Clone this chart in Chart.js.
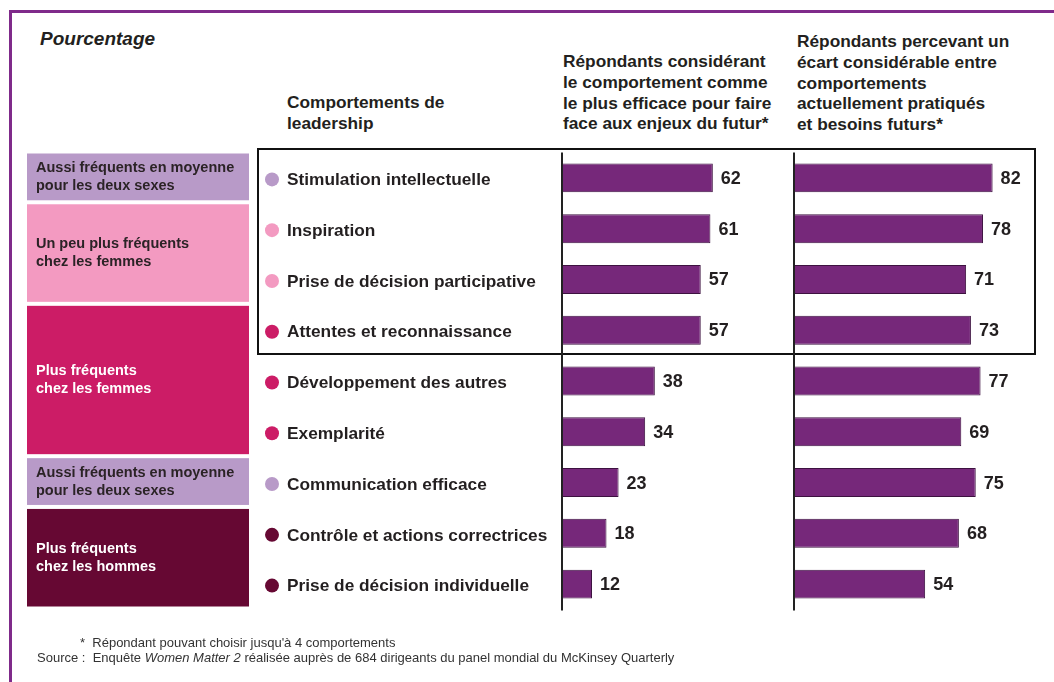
<!DOCTYPE html>
<html>
<head>
<meta charset="utf-8">
<script src="https://cdn.jsdelivr.net/npm/chart.js@4"></script>
<style>
  html, body { margin: 0; padding: 0; background: #fff; }
  body { width: 1054px; height: 682px; position: relative; overflow: hidden;
         font-family: "Liberation Sans", Arial, sans-serif; color: #231f20; }
  .frame { position: absolute; left: 9px; top: 10px; width: 1100px; height: 720px;
           border: 3px solid #7f2a8a; box-sizing: border-box; }
  .txt { position: absolute; font-weight: bold; white-space: nowrap; }
  .head { font-size: 17.3px; line-height: 20.8px; }
  #title { left: 40px; top: 28px; font-size: 19px; font-style: italic; }
  .focus { position: absolute; left: 257px; top: 148px; width: 779px; height: 207px;
           border: 2px solid #111; box-sizing: border-box; }
  canvas { position: absolute; left: 0; top: 0; }
  .foot { position: absolute; font-size: 13px; white-space: nowrap; color: #333; }
</style>
</head>
<body>
<div class="frame"></div>
<div class="txt" id="title">Pourcentage</div>
<div class="txt head" style="left:287px; top:92px;">Comportements de<br>leadership</div>
<div class="txt head" style="left:563px; top:51px;">Répondants considérant<br>le comportement comme<br>le plus efficace pour faire<br>face aux enjeux du futur*</div>
<div class="txt head" style="left:797px; top:31px;">Répondants percevant un<br>écart considérable entre<br>comportements<br>actuellement pratiqués<br>et besoins futurs*</div>
<div class="focus"></div>
<canvas id="c1" width="1054" height="682"></canvas>
<canvas id="c2" width="1054" height="682"></canvas>
<div class="foot" style="left:80px; top:635px;">* &nbsp;Répondant pouvant choisir jusqu'à 4 comportements</div>
<div class="foot" style="left:37px; top:650px;">Source : &nbsp;Enquête <i>Women Matter 2</i> réalisée auprès de 684 dirigeants du panel mondial du McKinsey Quarterly</div>
<script>
// Data
const behaviours = [
  'Stimulation intellectuelle',
  'Inspiration',
  'Prise de décision participative',
  'Attentes et reconnaissance',
  'Développement des autres',
  'Exemplarité',
  'Communication efficace',
  'Contrôle et actions correctrices',
  'Prise de décision individuelle'
];
const mostEffective = [62, 61, 57, 57, 38, 34, 23, 18, 12];
const gapPerceived = [82, 78, 71, 73, 77, 69, 75, 68, 54];

const groupLabels = [
  ['Aussi fréquents en moyenne', 'pour les deux sexes'],
  ['Un peu plus fréquents', 'chez les femmes'],
  ['Plus fréquents', 'chez les femmes'],
  ['Aussi fréquents en moyenne', 'pour les deux sexes'],
  ['Plus fréquents', 'chez les hommes']
];
const groupFirst = [0, 1, 3, 6, 7];
const groupLast = [0, 2, 5, 6, 8];
const groupColors = ['#b89ac8', '#f39ac1', '#cc1c66', '#b89ac8', '#660833'];
const groupTextColors = ['#2b2326', '#2b2326', '#ffffff', '#2b2326', '#ffffff'];

const BAR = '#76287a';
const TEXT = '#231f20';
const FONT = '"Liberation Sans", Arial, sans-serif';

// axis line + value labels
const barDecor = {
  id: 'barDecor',
  beforeDatasetsDraw(chart) {
    const { ctx, chartArea } = chart;
    ctx.save();
    ctx.strokeStyle = '#222';
    ctx.lineWidth = 2;
    ctx.beginPath();
    ctx.moveTo(chartArea.left - 1, chartArea.top);
    ctx.lineTo(chartArea.left - 1, chartArea.bottom + 1);
    ctx.stroke();
    ctx.restore();
  },
  afterDatasetsDraw(chart) {
    const { ctx } = chart;
    const ds = chart.data.datasets[0];
    ctx.save();
    ctx.fillStyle = TEXT;
    ctx.font = 'bold 18px ' + FONT;
    ctx.textBaseline = 'middle';
    chart.getDatasetMeta(0).data.forEach((bar, i) => {
      ctx.fillText(ds.data[i], bar.x + 8, bar.y + 1);
    });
    ctx.restore();
  }
};

// group boxes, bullets and behaviour labels (left side)
const leftSide = {
  id: 'leftSide',
  afterDraw(chart) {
    const { ctx } = chart;
    const y = chart.scales.y;
    const band = y.getPixelForValue(1) - y.getPixelForValue(0);
    ctx.save();
    groupLabels.forEach((lines, g) => {
      const top = y.getPixelForValue(groupFirst[g]) - band / 2 + 1;
      const bottom = y.getPixelForValue(groupLast[g]) + band / 2 - 3;
      ctx.fillStyle = groupColors[g];
      ctx.fillRect(27, top, 222, bottom - top);
      ctx.fillStyle = groupTextColors[g];
      ctx.font = 'bold 14.5px ' + FONT;
      ctx.textBaseline = 'middle';
      const mid = (top + bottom) / 2;
      ctx.fillText(lines[0], 36, mid - 9);
      ctx.fillText(lines[1], 36, mid + 9);
      for (let i = groupFirst[g]; i <= groupLast[g]; i++) {
        const py = y.getPixelForValue(i) + 1.5;
        ctx.fillStyle = groupColors[g];
        ctx.beginPath();
        ctx.arc(272, py, 7, 0, Math.PI * 2);
        ctx.fill();
        ctx.fillStyle = TEXT;
        ctx.font = 'bold 17.3px ' + FONT;
        ctx.fillText(behaviours[i], 287, py + 1);
      }
    });
    ctx.restore();
  }
};

function makeChart(id, values, left, width, max, extra) {
  return new Chart(document.getElementById(id), {
    type: 'bar',
    data: {
      labels: behaviours,
      datasets: [{
        data: values,
        backgroundColor: BAR,
        borderColor: '#3d1240',
        borderWidth: 1,
        borderSkipped: 'left',
        barPercentage: 0.57,
        categoryPercentage: 1
      }]
    },
    options: {
      indexAxis: 'y',
      responsive: false,
      animation: false,
      devicePixelRatio: 1,
      layout: { padding: { left: left, right: 1054 - left - width, top: 152.5, bottom: 72.5 } },
      scales: {
        x: { display: false, min: 0, max: max },
        y: { display: false }
      },
      plugins: { legend: { display: false }, tooltip: { enabled: false } }
    },
    plugins: [barDecor].concat(extra)
  });
}

makeChart('c1', mostEffective, 563, 232, 96, [leftSide]);
makeChart('c2', gapPerceived, 795, 241, 100, []);
</script>
</body>
</html>
